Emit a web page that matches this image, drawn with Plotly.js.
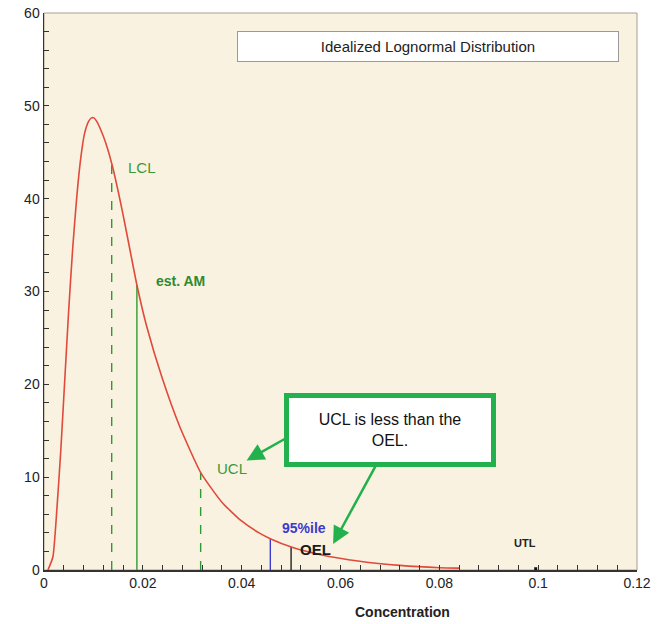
<!DOCTYPE html>
<html>
<head>
<meta charset="utf-8">
<script src="https://cdn.plot.ly/plotly-3.0.1.min.js"></script>
<style>html,body{margin:0;padding:0;background:#fff;}#chart{width:662px;height:624px;}</style>
</head>
<body>
<div id="chart"></div>
<script>
// Lognormal density curve
const curveX = [0.0008, 0.0018, 0.0026, 0.0034, 0.0042, 0.0050, 0.0058, 0.0066, 0.0074, 0.0082, 0.0090, 0.0096, 0.0101, 0.0107, 0.0115, 0.0125, 0.0138, 0.0158, 0.0175, 0.0188, 0.0208, 0.0239, 0.0275, 0.0318, 0.0360, 0.0397, 0.0437, 0.0459, 0.0502, 0.0560, 0.0639, 0.0720, 0.0801, 0.0840];
const curveY = [0, 1.4, 6.5, 12.9, 20.5, 28.0, 34.6, 40.0, 44.2, 47.0, 48.3, 48.7, 48.7, 48.3, 47.4, 46.0, 43.6, 38.8, 34.2, 30.7, 26.2, 20.7, 15.4, 10.4, 7.3, 5.4, 3.95, 3.35, 2.45, 1.65, 0.95, 0.5, 0.25, 0.2];

// Reference lines (name, x position, height at curve)
const refNames = ["LCL", "est. AM", "UCL", "95%ile", "OEL", "UTL"];
const refX = [0.0137, 0.0188, 0.0317, 0.0458, 0.0500, 0.0995];
const refY = [43.8, 30.7, 10.5, 3.35, 2.5, 0.3];

const xTicks = [0, 0.02, 0.04, 0.06, 0.08, 0.1, 0.12];
const xTickText = ["0", "0.02", "0.04", "0.06", "0.08", "0.1", "0.12"];
const yTicks = [0, 10, 20, 30, 40, 50, 60];

const refStyle = [
  {color: "#2f9a33", dash: "dash", width: 1.4},
  {color: "#2f9a33", dash: "solid", width: 1.4},
  {color: "#2f9a33", dash: "dash", width: 1.4},
  {color: "#3b3bd0", dash: "solid", width: 1.4},
  {color: "#222222", dash: "solid", width: 1.4},
  {color: "#111111", dash: "solid", width: 3}
];

const traces = [];
refNames.forEach((n, i) => {
  traces.push({
    x: [refX[i], refX[i]], y: [0, refY[i]], mode: "lines",
    line: refStyle[i], hoverinfo: "skip", showlegend: false
  });
});
traces.push({
  x: curveX, y: curveY, mode: "lines",
  line: {color: "#e04a3c", width: 1.6, shape: "spline", smoothing: 0.5},
  showlegend: false
});

const G = "#22b14c";
const layout = {
  width: 662, height: 624,
  margin: {l: 44, r: 25, t: 13, b: 54},
  paper_bgcolor: "#ffffff",
  plot_bgcolor: "#faf2e0",
  font: {family: "Arial, 'Liberation Sans', sans-serif", size: 14, color: "#222"},
  showlegend: false,
  xaxis: {
    range: [0, 0.12], tickvals: xTicks, ticktext: xTickText,
    ticks: "inside", ticklen: 5, tickcolor: "#333",
    minor: {dtick: 0.004, ticks: "inside", ticklen: 5, tickcolor: "#333"},
    showgrid: false, zeroline: false,
    showline: true, linecolor: "#333", linewidth: 1.5,
    tickfont: {size: 14, color: "#222"}
  },
  yaxis: {
    range: [0, 60], tickvals: yTicks,
    ticks: "inside", ticklen: 5, tickcolor: "#333",
    minor: {dtick: 2, ticks: "inside", ticklen: 5, tickcolor: "#333"},
    showgrid: false, zeroline: false,
    showline: true, linecolor: "#333", linewidth: 1.5,
    tickfont: {size: 14, color: "#222"}
  },
  shapes: [
    {type: "rect", xref: "paper", yref: "paper", x0: 0, x1: 1, y0: 0, y1: 1,
     line: {color: "#a89f90", width: 1}, layer: "below"}
  ],
  annotations: [
    {xref: "paper", yref: "paper", x: 0.6476, y: 0.939, xanchor: "center", yanchor: "middle",
     text: "Idealized Lognormal Distribution",
     showarrow: false, width: 378, height: 27, bgcolor: "#ffffff", bordercolor: "#9a9a9a", borderwidth: 1,
     font: {size: 15, color: "#222"}},
    {xref: "paper", yref: "paper", x: 0.604, y: -0.058, xanchor: "center", yanchor: "top", text: "<b>Concentration</b>",
     showarrow: false, font: {size: 14, color: "#222"}},
    {x: 0.0198, y: 43.4, text: "LCL", showarrow: false, font: {size: 15, color: "#3a9a3a"}},
    {x: 0.0277, y: 31.1, text: "<b>est. AM</b>", showarrow: false, font: {size: 14, color: "#2f8a2f"}},
    {x: 0.0380, y: 10.9, text: "UCL", showarrow: false, font: {size: 15, color: "#3a9a3a"}},
    {x: 0.0526, y: 4.5, text: "<b>95%ile</b>", showarrow: false, font: {size: 14, color: "#3a3acc"}},
    {x: 0.0550, y: 2.2, text: "<b>OEL</b>", showarrow: false, font: {size: 15, color: "#1a1a1a"}},
    {x: 0.0973, y: 2.9, text: "<b>UTL</b>", showarrow: false, font: {size: 11, color: "#222"}},
    // arrows
    {x: 0.0410, y: 11.8, ax: 0.0490, ay: 14.2, axref: "x", ayref: "y", text: "",
     showarrow: true, arrowhead: 2, arrowsize: 1.4, arrowwidth: 2.5, arrowcolor: G},
    {x: 0.0585, y: 2.8, ax: 0.0672, ay: 11.3, axref: "x", ayref: "y", text: "",
     showarrow: true, arrowhead: 2, arrowsize: 1.4, arrowwidth: 2.5, arrowcolor: G},
    {x: 0.0700, y: 15.1, text: "UCL is less than the<br>OEL.", showarrow: false,
     width: 202, height: 64, bgcolor: "#ffffff", bordercolor: G, borderwidth: 5, borderpad: 0,
     font: {size: 16, color: "#111"}}
  ]
};

Plotly.newPlot("chart", traces, layout, {displayModeBar: false, staticPlot: true});
</script>
</body>
</html>
